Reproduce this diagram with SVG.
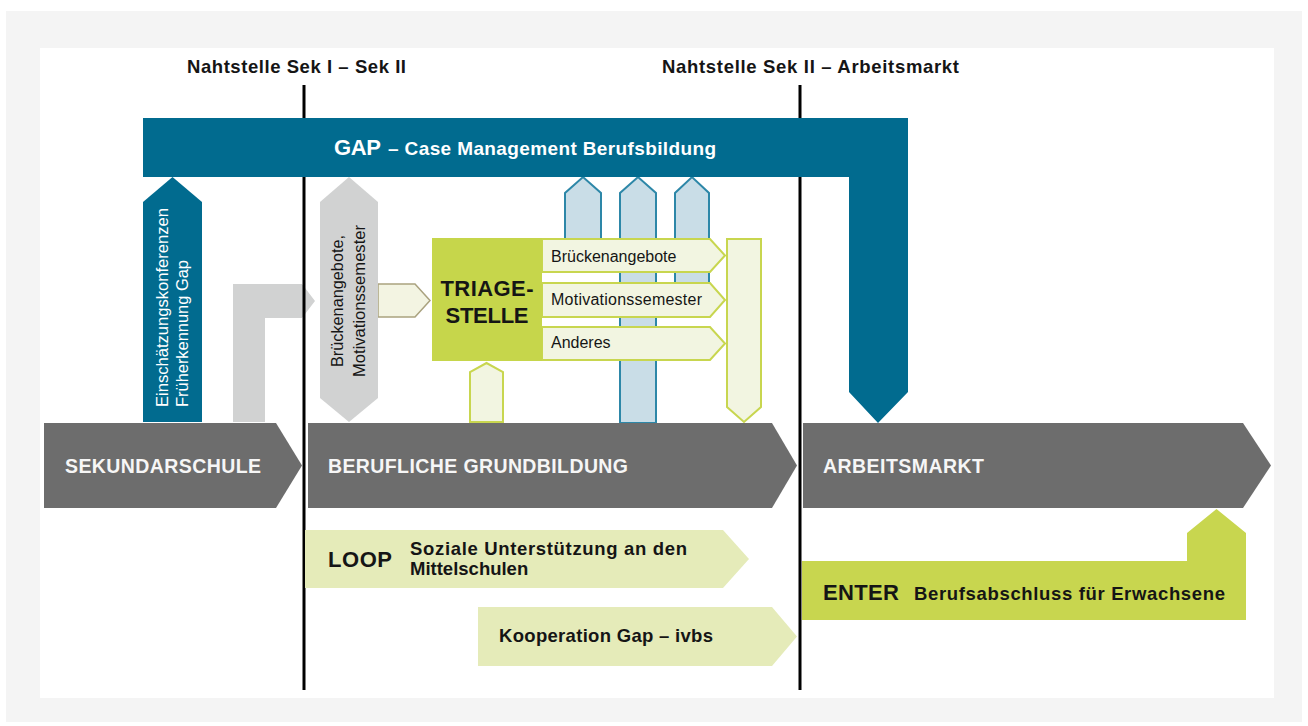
<svg xmlns="http://www.w3.org/2000/svg" width="1308" height="726" viewBox="0 0 1308 726">
<style>
.t{font-family:"Liberation Sans",Arial,sans-serif}
.b{font-weight:bold}
.dark{fill:#151515}
.wh{fill:#ffffff}
.bar{fill:#6d6d6d}
.bartxt{fill:#f6f6f6;font-weight:bold;font-size:19.5px}
.lblue{fill:#c9dde7;stroke:#2d87a8;stroke-width:2}
.cream{fill:#f2f5e1;stroke:#c8d64f;stroke-width:2}
.lab{font-size:16px}
.sub{font-size:18.5px}
</style>
<rect x="0" y="0" width="1308" height="726" fill="#ffffff"/>
<rect x="6" y="11" width="1296" height="711" fill="#f4f4f4"/>
<rect x="40" y="48" width="1234" height="650" fill="#ffffff"/>

<g id="connectors">
  <polygon id="grey-l-arrow" points="233,422 233,284 302,284 315,301 302,318 265,318 265,422" fill="#d1d2d2"/>
  <polygon id="col1" class="lblue" points="565,245 565,193 583,177 601,193 601,245"/>
  <polygon id="col2" class="lblue" points="620,423 620,193 638,177 656,193 656,423"/>
  <polygon id="col3" class="lblue" points="675,290 675,193 692,177 709,193 709,290"/>
  <polygon id="cream-arrow" points="378,284 415,284 430,300.5 415,317 378,317" fill="#f3f4e2" stroke="#aaa27f" stroke-width="1.5"/>
  <polygon id="triage-up" class="cream" points="470,422 470,372 486.5,363 503,372 503,422"/>
  <polygon id="tall-down" class="cream" points="727,239 761,239 761,407 744,422 727,407"/>
</g>

<g id="dividers">
  <line x1="304" y1="85" x2="304" y2="690" stroke="#000" stroke-width="3"/>
  <line x1="800" y1="85" x2="800" y2="690" stroke="#000" stroke-width="3"/>
  <text class="t b dark" x="187" y="73" font-size="18.5" textLength="219">Nahtstelle Sek I – Sek II</text>
  <text class="t b dark" x="662" y="73" font-size="18.5" textLength="297">Nahtstelle Sek II – Arbeitsmarkt</text>
</g>

<g id="gap">
  <polygon points="143,118 908,118 908,392 878,423 849,392 849,177 143,177" fill="#016b8f"/>
  <text class="t b wh" x="334" y="155" font-size="22" textLength="47">GAP</text>
  <text class="t b wh" x="388" y="155" font-size="19" textLength="328">– Case Management Berufsbildung</text>
</g>

<g id="einschaetzung">
  <polygon points="143,422 143,202 172.5,177 202,202 202,422" fill="#016b8f"/>
  <text class="t wh" font-size="16" x="168" y="407" transform="rotate(-90 168 407)" textLength="199" lengthAdjust="spacingAndGlyphs">Einschätzungskonferenzen</text>
  <text class="t wh" font-size="16" x="188" y="407" transform="rotate(-90 188 407)" textLength="147" lengthAdjust="spacingAndGlyphs">Früherkennung Gap</text>
</g>

<g id="brueckenangebote-vertical">
  <polygon points="320,398 320,202 349,177 378,202 378,398 349,422" fill="#d1d2d2"/>
  <text class="t dark" font-size="16" x="343" y="301" text-anchor="middle" transform="rotate(-90 343 301)" textLength="132" lengthAdjust="spacingAndGlyphs">Brückenangebote,</text>
  <text class="t dark" font-size="16" x="365" y="301" text-anchor="middle" transform="rotate(-90 365 301)" textLength="152" lengthAdjust="spacingAndGlyphs">Motivationssemester</text>
</g>

<g id="triage-arrows">
  <polygon class="cream" points="542,239 710,239 725,255.5 710,272 542,272"/>
  <text class="t dark lab" x="551" y="262">Brückenangebote</text>
  <polygon class="cream" points="542,283 710,283 725,300 710,317 542,317"/>
  <text class="t dark lab" x="551" y="305" textLength="151">Motivationssemester</text>
  <polygon class="cream" points="542,327 710,327 725,343.5 710,360 542,360"/>
  <text class="t dark lab" x="551" y="348">Anderes</text>
</g>

<g id="triage">
  <rect x="432" y="238" width="110" height="123" fill="#c6d64b"/>
  <text class="t b dark" x="487" y="296" font-size="22" text-anchor="middle" textLength="93">TRIAGE-</text>
  <text class="t b dark" x="487" y="323" font-size="22" text-anchor="middle" textLength="83">STELLE</text>
</g>

<g id="sekundarschule">
  <polygon class="bar" points="44,423 276,423 302,465.5 276,508 44,508"/>
  <text class="t bartxt" x="65" y="473" textLength="196">SEKUNDARSCHULE</text>
</g>
<g id="berufliche-grundbildung">
  <polygon class="bar" points="308,423 772,423 797,465.5 772,508 308,508"/>
  <text class="t bartxt" x="328" y="473" textLength="300">BERUFLICHE GRUNDBILDUNG</text>
</g>
<g id="arbeitsmarkt">
  <polygon class="bar" points="803,423 1243,423 1271,465.5 1243,508 803,508"/>
  <text class="t bartxt" x="823" y="473" textLength="161">ARBEITSMARKT</text>
</g>

<g id="loop">
  <polygon points="305,530 723,530 749,559 723,588 305,588" fill="#e5ebb9"/>
  <text class="t b dark" x="328" y="567" font-size="22" textLength="64">LOOP</text>
  <text class="t b dark sub" x="410" y="555" textLength="277">Soziale Unterstützung an den</text>
  <text class="t b dark sub" x="410" y="575">Mittelschulen</text>
</g>

<g id="kooperation">
  <polygon points="478,607 772,607 797,636.5 772,666 478,666" fill="#e5ebb9"/>
  <text class="t b dark sub" x="499" y="642" textLength="214">Kooperation Gap – ivbs</text>
</g>

<g id="enter">
  <polygon points="802,561 1187,561 1187,533 1216.5,509 1246,533 1246,620 802,620" fill="#c8d64f"/>
  <text class="t b dark" x="823" y="600" font-size="22" textLength="76">ENTER</text>
  <text class="t b dark sub" x="914" y="600" textLength="311">Berufsabschluss für Erwachsene</text>
</g>
</svg>
